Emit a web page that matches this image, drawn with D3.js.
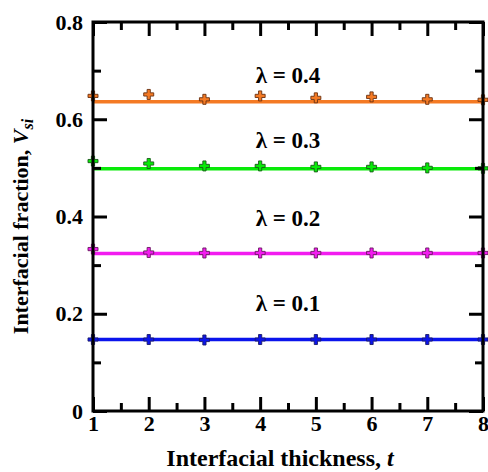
<!DOCTYPE html>
<html>
<head>
<meta charset="utf-8">
<script src="https://cdn.jsdelivr.net/npm/d3@7"></script>
<style>
body { margin: 0; background: #fff; }
text { font-family: "Liberation Serif", "Times New Roman", serif; font-weight: bold; }
</style>
</head>
<body>
<div class="content"></div>
<script>
var thickness = [1, 2, 3, 4, 5, 6, 7, 8];
var lambdas = ["0.1", "0.2", "0.3", "0.4"];
// fitted (line) value per lambda
var fitValues = [0.147, 0.324, 0.498, 0.636];
// simulated points per lambda
var pts01 = [0.147, 0.147, 0.146, 0.147, 0.147, 0.147, 0.147, 0.147];
var pts02 = [0.333, 0.326, 0.325, 0.325, 0.325, 0.325, 0.325, 0.325];
var pts03 = [0.514, 0.509, 0.504, 0.504, 0.502, 0.502, 0.500, 0.499];
var pts04 = [0.648, 0.651, 0.641, 0.648, 0.644, 0.646, 0.641, 0.640];
var labelY = [0.222, 0.397, 0.557, 0.691];
var colors = ["#0b14ec", "#f21cf0", "#08ea08", "#f47a24"];
var edges = ["#1a1a6a", "#6a1a60", "#1a5a1a", "#6a3010"];
var yTicks = [0, 0.2, 0.4, 0.6, 0.8];
var xMinor = [1.5, 2.5, 3.5, 4.5, 5.5, 6.5, 7.5];
var yMinor = [0.1, 0.3, 0.5, 0.7];

function render(){
var margin = {top: 22, right: 5, bottom: 61, left: 93},
    width = 488 - margin.left - margin.right,
    height = 472 - margin.top - margin.bottom;

var x = d3.scaleLinear().domain([1, 8]).range([0, width]);
var y = d3.scaleLinear().domain([0, 0.8]).range([height, 0]);

var svg = d3.select("body").select(".content").append("svg")
    .attr("width", 488)
    .attr("height", 472)
  .append("g")
    .attr("transform", "translate(" + margin.left + "," + margin.top + ")");

var series = [pts01, pts02, pts03, pts04];

// fitted lines
var line = d3.line()
    .x(function(d) { return x(d[0]); })
    .y(function(d) { return y(d[1]); });
fitValues.forEach(function(v, i) {
  svg.append("path")
      .datum(thickness.map(function(t) { return [t, v]; }))
      .attr("fill", "none")
      .attr("stroke", colors[i])
      .attr("stroke-width", 3.5)
      .attr("d", line);
});

// plus markers
var a = 5, b = 1.6;
var plus = "M" + (-b) + "," + (-a) + "H" + b + "V" + (-b) + "H" + a + "V" + b + "H" + b + "V" + a +
    "H" + (-b) + "V" + b + "H" + (-a) + "V" + (-b) + "H" + (-b) + "Z";
series.forEach(function(s, i) {
  svg.append("g").selectAll("path")
      .data(s)
    .enter().append("path")
      .attr("transform", function(d, j) { return "translate(" + x(thickness[j]) + "," + y(d) + ")"; })
      .attr("d", plus)
      .attr("fill", colors[i])
      .attr("stroke", edges[i])
      .attr("stroke-width", 0.9);
});

// lambda labels
lambdas.forEach(function(l, i) {
  svg.append("text")
      .attr("x", width / 2)
      .attr("y", y(labelY[i]))
      .attr("dy", "0.35em")
      .attr("text-anchor", "middle")
      .style("font-size", "23px")
      .text("\u03bb = " + l);
});

// axes: labels on bottom/left, inward ticks mirrored on all four sides
function styleAxis(g) {
  g.select(".domain").remove();
  g.selectAll("line").attr("stroke", "#000").attr("stroke-width", 3);
}
svg.append("g").attr("transform", "translate(0," + height + ")")
    .call(d3.axisBottom(x).tickValues(thickness).tickSizeInner(-14).tickSizeOuter(0)
      .tickPadding(4).tickFormat(d3.format("d")))
    .call(styleAxis)
    .selectAll("text").style("font-size", "22px").attr("fill", "#000");
svg.append("g").attr("transform", "translate(0," + height + ")")
    .call(d3.axisBottom(x).tickValues(xMinor).tickSizeInner(-8).tickSizeOuter(0).tickFormat(""))
    .call(styleAxis);
svg.append("g")
    .call(d3.axisTop(x).tickValues(thickness).tickSizeInner(-14).tickSizeOuter(0).tickFormat(""))
    .call(styleAxis);
svg.append("g")
    .call(d3.axisTop(x).tickValues(xMinor).tickSizeInner(-8).tickSizeOuter(0).tickFormat(""))
    .call(styleAxis);
svg.append("g")
    .call(d3.axisLeft(y).tickValues(yTicks).tickSizeInner(-14).tickSizeOuter(0).tickPadding(10)
      .tickFormat(function(d) { return d === 0 ? "0" : d3.format(".1f")(d); }))
    .call(styleAxis)
    .selectAll("text").style("font-size", "22px").attr("fill", "#000");
svg.append("g")
    .call(d3.axisLeft(y).tickValues(yMinor).tickSizeInner(-8).tickSizeOuter(0).tickFormat(""))
    .call(styleAxis);
svg.append("g").attr("transform", "translate(" + width + ",0)")
    .call(d3.axisRight(y).tickValues(yTicks).tickSizeInner(-14).tickSizeOuter(0).tickFormat(""))
    .call(styleAxis);
svg.append("g").attr("transform", "translate(" + width + ",0)")
    .call(d3.axisRight(y).tickValues(yMinor).tickSizeInner(-8).tickSizeOuter(0).tickFormat(""))
    .call(styleAxis);

// frame
svg.append("rect")
    .attr("width", width)
    .attr("height", height)
    .attr("fill", "none")
    .attr("stroke", "#000")
    .attr("stroke-width", 3);

// axis titles
var xt = svg.append("text")
    .attr("x", width / 2 - 8)
    .attr("y", height + 55)
    .attr("text-anchor", "middle")
    .style("font-size", "24px");
xt.append("tspan").text("Interfacial thickness, ");
xt.append("tspan").style("font-style", "italic").text("t");

var yt = svg.append("text")
    .attr("transform", "translate(" + (-65) + "," + (height / 2 + 10) + ") rotate(-90)")
    .attr("text-anchor", "middle")
    .style("font-size", "22px");
yt.append("tspan").text("Interfacial fraction, ");
yt.append("tspan").style("font-style", "italic").text("V");
yt.append("tspan").style("font-style", "italic").style("font-size", "16px").attr("dy", 5).text("si");
}
render();
</script>
</body>
</html>
